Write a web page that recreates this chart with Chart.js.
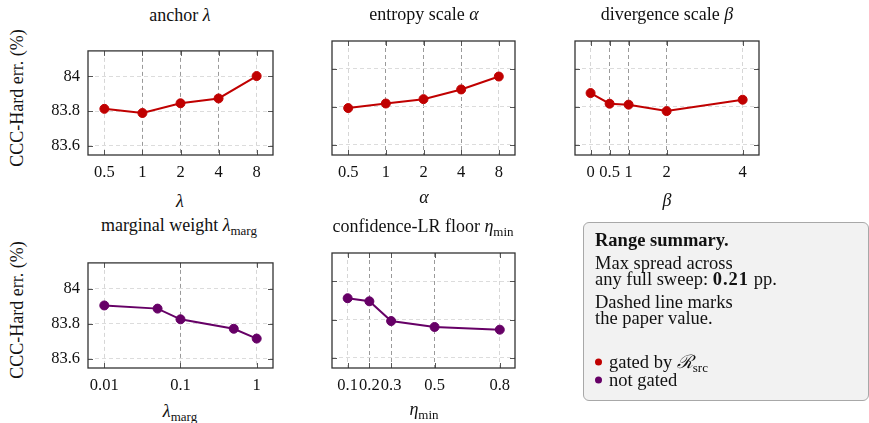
<!DOCTYPE html>
<html>
<head>
<meta charset="utf-8">
<script src="https://cdn.jsdelivr.net/npm/chart.js@4"></script>
<style>
  body { margin: 0; background: #fff; width: 869px; height: 423px; position: relative; overflow: hidden;
         font-family: "Liberation Serif", "Times New Roman", serif; color: #111; }
  canvas { position: absolute; }
  .t { position: absolute; transform: translate(-50%, -50%); white-space: nowrap; font-size: 18px; }
  .yl { position: absolute; transform: translate(-50%, -50%) rotate(-90deg); white-space: nowrap; font-size: 18px; }
  .m { font-style: italic; }
  .s { font-size: 13px; position: relative; top: 4px; }
  #box { position: absolute; left: 583px; top: 222px; width: 284px; height: 177px; background: #f2f2f2;
         border: 1px solid #a8a8a8; border-radius: 6px; }
  .bl { position: absolute; left: 595px; transform: translateY(-50%); white-space: nowrap; font-size: 18.5px; }
  .dot { display: inline-block; width: 7px; height: 7px; border-radius: 50%; margin-right: 7px; position: relative; top: -2px; }
</style>
</head>
<body>
<canvas id="c1"></canvas>
<canvas id="c2"></canvas>
<canvas id="c3"></canvas>
<canvas id="c4"></canvas>
<canvas id="c5"></canvas>

<div class="t" style="left:180px;top:15px">anchor <span class="m">λ</span></div>
<div class="t" style="left:424px;top:14px">entropy scale <span class="m">α</span></div>
<div class="t" style="left:667px;top:14px">divergence scale <span class="m">β</span></div>
<div class="t" style="left:179px;top:225px">marginal weight <span class="m">λ</span><span class="s">marg</span></div>
<div class="t" style="left:423px;top:226px">confidence-LR floor <span class="m">η</span><span class="s">min</span></div>

<div class="t" style="left:180px;top:201px"><span class="m">λ</span></div>
<div class="t" style="left:424px;top:197px"><span class="m">α</span></div>
<div class="t" style="left:667px;top:200px"><span class="m">β</span></div>
<div class="t" style="left:180px;top:411px"><span class="m">λ</span><span class="s">marg</span></div>
<div class="t" style="left:424px;top:409px"><span class="m">η</span><span class="s">min</span></div>

<div class="yl" style="left:17px;top:98px">CCC-Hard err. (%)</div>
<div class="yl" style="left:17px;top:310px">CCC-Hard err. (%)</div>

<div id="box"></div>
<div class="bl" style="top:240px;font-weight:bold">Range summary.</div>
<div class="bl" style="top:263px">Max spread across</div>
<div class="bl" style="top:279px">any full sweep: <b style="letter-spacing:1px">0.21</b> pp.</div>
<div class="bl" style="top:302px">Dashed line marks</div>
<div class="bl" style="top:318px">the paper value.</div>
<div class="bl" style="top:360px"><span class="dot" style="background:#c00000"></span>gated by <span style="font-family:'DejaVu Serif',serif;font-style:italic">ℛ</span><span class="s">src</span></div>
<div class="bl" style="top:380px"><span class="dot" style="background:#660066"></span>not gated</div>

<script>
// sweep values
const anchorX = [0.5, 1, 2, 4, 8];
const anchorErr = [83.813, 83.789, 83.845, 83.873, 84.002];
const alphaX = [0.5, 1, 2, 4, 8];
const alphaErr = [83.794, 83.818, 83.841, 83.892, 83.960];
const betaX = [0, 0.5, 1, 2, 4];
const betaErr = [83.873, 83.817, 83.812, 83.778, 83.838];
const margX = [0.01, 0.05, 0.1, 0.5, 1];
const margErr = [83.904, 83.886, 83.825, 83.771, 83.715];
const etaX = [0.1, 0.2, 0.3, 0.5, 0.8];
const etaErr = [83.911, 83.895, 83.792, 83.761, 83.747];
const yTicks = [83.6, 83.8, 84];

const RED = '#c00000';
const PURPLE = '#660066';
const LEFT = 60, TOP = 8, RIGHT = 14, BOTTOM = 32;

// box + inward tick marks like pgfplots
const framePlugin = {
  id: 'frame',
  beforeDatasetsDraw(chart) {
    const ctx = chart.ctx, a = chart.chartArea;
    ctx.save();
    ctx.strokeStyle = '#555';
    ctx.lineWidth = 1;
    ctx.beginPath();
    chart.scales.x.ticks.forEach(t => {
      const px = Math.round(chart.scales.x.getPixelForValue(t.value)) + 0.5;
      ctx.moveTo(px, a.top); ctx.lineTo(px, a.top + 5);
      ctx.moveTo(px, a.bottom); ctx.lineTo(px, a.bottom - 5);
    });
    chart.scales.y.ticks.forEach(t => {
      const py = Math.round(chart.scales.y.getPixelForValue(t.value)) + 0.5;
      ctx.moveTo(a.left, py); ctx.lineTo(a.left + 5, py);
      ctx.moveTo(a.right, py); ctx.lineTo(a.right - 5, py);
    });
    ctx.stroke();
    ctx.restore();
  },
  afterDraw(chart) {
    const ctx = chart.ctx, a = chart.chartArea;
    ctx.save();
    ctx.strokeStyle = '#333';
    ctx.lineWidth = 1.3;
    ctx.strokeRect(a.left, a.top, a.right - a.left, a.bottom - a.top);
    ctx.restore();
  }
};

function makeChart(id, box, xs, ys, color, xOpts, showY) {
  const cv = document.getElementById(id);
  const w = box[2] - box[0] + LEFT + RIGHT;
  const h = box[3] - box[1] + TOP + BOTTOM;
  cv.width = w; cv.height = h;
  cv.style.left = (box[0] - LEFT) + 'px';
  cv.style.top = (box[1] - TOP) + 'px';
  const labels = xOpts.labels;
  const pos = xOpts.ticks;
  const nTicks = pos.length;
  return new Chart(cv, {
    type: 'line',
    data: {
      datasets: [{
        data: xs.map((x, i) => ({ x: x, y: ys[i] })),
        borderColor: color,
        backgroundColor: color,
        borderWidth: 2,
        pointRadius: 4.5,
        pointBorderWidth: 1,
        pointHoverRadius: 4.5,
        tension: 0
      }]
    },
    options: {
      responsive: false,
      animation: false,
      devicePixelRatio: 1,
      layout: { padding: { left: 0, top: TOP, right: RIGHT, bottom: 0 } },
      plugins: { legend: { display: false }, tooltip: { enabled: false } },
      scales: {
        x: {
          type: xOpts.type,
          min: xOpts.min, max: xOpts.max,
          afterBuildTicks: s => { s.ticks = pos.map(v => ({ value: v })); },
          afterFit: s => { s.height = BOTTOM; },
          grid: {
            drawTicks: false,
            color: c => (c.index === 0 || c.index === nTicks - 1) ? '#d6d6d6' : '#9a9a9a',
            lineWidth: 1
          },
          border: { display: false, dash: [4, 3] },
          ticks: {
            padding: 8,
            maxRotation: 0,
            autoSkip: false,
            color: '#111',
            font: { family: 'Liberation Serif', size: 16.5 },
            callback: (v, i) => labels[i]
          }
        },
        y: {
          type: 'linear',
          min: 83.547, max: 84.147,
          afterBuildTicks: s => { s.ticks = yTicks.map(v => ({ value: v })); },
          afterFit: s => { s.width = LEFT; },
          grid: { drawTicks: false, color: '#dcdcdc', lineWidth: 1 },
          border: { display: false, dash: [4, 3] },
          ticks: {
            display: showY,
            padding: 8,
            color: '#111',
            font: { family: 'Liberation Serif', size: 16.5 },
            callback: v => String(Math.round(v * 10) / 10)
          }
        }
      }
    },
    plugins: [framePlugin]
  });
}

makeChart('c1', [88, 41, 273, 155], [0, 1, 2, 3, 4], anchorErr, RED,
  { type: 'linear', min: -0.43, max: 4.43, ticks: [0, 1, 2, 3, 4], labels: anchorX.map(String) }, true);
makeChart('c2', [332, 41, 515, 155], [0, 1, 2, 3, 4], alphaErr, RED,
  { type: 'linear', min: -0.43, max: 4.43, ticks: [0, 1, 2, 3, 4], labels: alphaX.map(String) }, false);
makeChart('c3', [575, 41, 759, 155], betaX, betaErr, RED,
  { type: 'linear', min: -0.41, max: 4.43, ticks: betaX, labels: betaX.map(String) }, false);
makeChart('c4', [88, 253, 273, 368], margX, margErr, PURPLE,
  { type: 'logarithmic', min: 0.00611, max: 1.637, ticks: [0.01, 0.1, 1], labels: ['0.01', '0.1', '1'] }, true);
makeChart('c5', [332, 253, 515, 368], etaX, etaErr, PURPLE,
  { type: 'linear', min: 0.028, max: 0.87, ticks: etaX, labels: etaX.map(String) }, false);
</script>
</body>
</html>
